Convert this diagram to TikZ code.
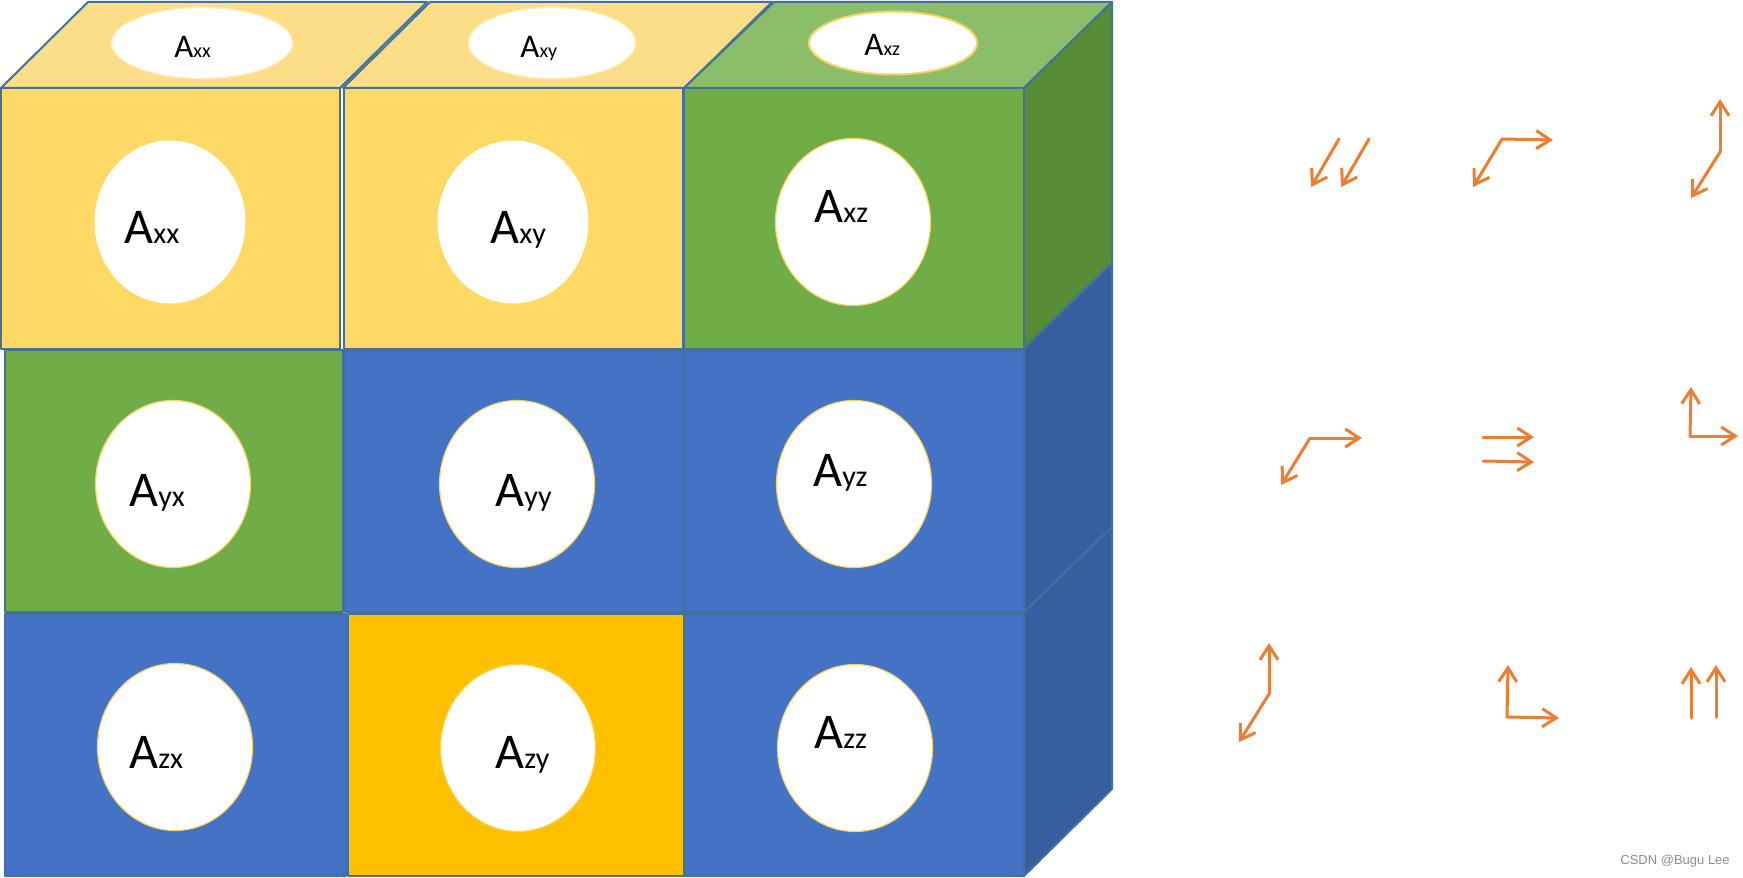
\documentclass[tikz,border=0pt]{standalone}
\usepackage{fontspec}
\setmainfont{Carlito}
\newfontfamily\markfont{Liberation Sans}
\usetikzlibrary{shapes.geometric, arrows.meta}
\definecolor{edgeblue}{HTML}{41719C}
\definecolor{yeltop}{HTML}{FDDE88}
\definecolor{yelfront}{HTML}{FFD966}
\definecolor{goldfront}{HTML}{FFC000}
\definecolor{grntop}{HTML}{8CBD68}
\definecolor{grnfront}{HTML}{70AD47}
\definecolor{grnside}{HTML}{578B36}
\definecolor{bluefront}{HTML}{4472C4}
\definecolor{blueside}{HTML}{375E9E}
\definecolor{ringgold}{HTML}{F5D45F}
\definecolor{arroworange}{HTML}{ED7D31}
\tikzstyle{every node}=[inner sep=0pt]
\tikzstyle{face} = [draw=edgeblue, line width=1pt, line join=round]
\tikzstyle{blob} = [ellipse, draw=ringgold, line width=0.6pt, fill=white, minimum width=77.5pt, minimum height=83.5pt]
\tikzstyle{lid} = [ellipse, draw=ringgold!40, line width=0.6pt, fill=white, minimum height=35.5pt]
\tikzstyle{tag} = [anchor=base west]
\tikzstyle{vec} = [draw=arroworange, line width=1.5pt, line cap=round, -{Straight Barb[length=7pt,width=9pt]}]
\newcommand{\bigA}[1]{{\fontsize{25}{25}\selectfont A}{\fontsize{15}{15}\selectfont #1}}
\newcommand{\lidA}[1]{{\fontsize{16.5}{16.5}\selectfont A}{\fontsize{10}{10}\selectfont #1}}

\begin{document}
\begin{tikzpicture}[x=0.5pt, y=-0.5pt]
    \useasboundingbox (0,0) rectangle (1743,877);
    % Top faces
    \filldraw [face, fill=yeltop] (1,88) -- (340,88) -- (427,2) -- (88,2) -- cycle;
    \filldraw [face, fill=yeltop] (343,88) -- (684,88) -- (772,2) -- (430,2) -- cycle;
    \filldraw [face, fill=grntop] (684,88) -- (1024,88) -- (1112,2) -- (774,2) -- cycle;
    % Side faces
    \filldraw [face, fill=grnside] (1024,88) -- (1112,2) -- (1112,263) -- (1024,349) -- cycle;
    \filldraw [face, fill=blueside] (1024,349) -- (1112,263) -- (1112,527) -- (1024,612) -- cycle;
    \filldraw [face, fill=blueside] (1024,612) -- (1112,527) -- (1112,789) -- (1024,876) -- cycle;
    % Front faces
    \filldraw [face, fill=yelfront] (1,88) rectangle (340,349);
    \filldraw [face, fill=yelfront] (344,88) rectangle (683,349);
    \filldraw [face, fill=grnfront] (684,88) rectangle (1024,349);
    \filldraw [face, fill=grnfront] (5,350) rectangle (343,612);
    \filldraw [face, fill=bluefront] (345,350) rectangle (685,612);
    \filldraw [face, fill=bluefront] (684,350) rectangle (1024,612);
    \filldraw [face, fill=bluefront] (5,614) rectangle (346,876);
    \filldraw [face, fill=goldfront] (348,614) rectangle (684,876);
    \filldraw [face, fill=bluefront] (684,614) rectangle (1024,876);

    % Place nodes
    \node [lid, minimum width=90.5pt] (txx) at (202,43) {};
    \node [lid, minimum width=83.5pt] (txy) at (552,43) {};
    \node [lid, draw=ringgold, line width=1pt, minimum width=84pt, minimum height=31.5pt] (txz) at (893,43) {};
    \node [tag] (ltxx) at (174,58) {\lidA{xx}};
    \node [tag] (ltxy) at (520,58) {\lidA{xy}};
    \node [tag] (ltxz) at (864,56) {\lidA{xz}};

    \node [blob, draw=none, minimum width=75.5pt, minimum height=81.5pt] (xx) at (170,222) {};
    \node [blob, draw=none, minimum width=75.5pt, minimum height=81.5pt] (xy) at (513,222) {};
    \node [blob] (xz) at (853,222) {};
    \node [blob] (yx) at (173,484) {};
    \node [blob] (yy) at (517,484) {};
    \node [blob] (yz) at (854,484) {};
    \node [blob] (zx) at (175,747) {};
    \node [blob] (zy) at (518,748) {};
    \node [blob] (zz) at (855,748) {};

    \node [tag] (lxx) at (124,243) {\bigA{xx}};
    \node [tag] (lxy) at (490,243) {\bigA{xy}};
    \node [tag] (lxz) at (814,222) {\bigA{xz}};
    \node [tag] (lyx) at (129,506) {\bigA{yx}};
    \node [tag] (lyy) at (495,506) {\bigA{yy}};
    \node [tag] (lyz) at (813,486) {\bigA{yz}};
    \node [tag] (lzx) at (129,768) {\bigA{zx}};
    \node [tag] (lzy) at (495,768) {\bigA{zy}};
    \node [tag] (lzz) at (814,748) {\bigA{zz}};

    \node [tag, text=black!45] (mark) at (1620,864) {\markfont\fontsize{6.5}{6.5}\selectfont CSDN @Bugu Lee};

    % Arrow pairs
    \coordinate (xxa) at (1339,139); \coordinate (xxb) at (1369,139);
    \coordinate (xy0) at (1502,139);
    \coordinate (xz0) at (1720,152);
    \coordinate (yx0) at (1310,438);
    \coordinate (yya) at (1483,437); \coordinate (yyb) at (1483,461);
    \coordinate (yz0) at (1690,436);
    \coordinate (zx0) at (1269,694);
    \coordinate (zy0) at (1507,717);
    \coordinate (zza) at (1691,718); \coordinate (zzb) at (1716,717);

    \path [vec] (xxa) -- (1311,187);
    \path [vec] (xxb) -- (1341,187);
    \path [vec] (xy0) -- (1553,140);
    \path [vec] (xy0) -- (1473,187);
    \path [vec] (xz0) -- (1720,99);
    \path [vec] (xz0) -- (1691,198);
    \path [vec] (yx0) -- (1362,438);
    \path [vec] (yx0) -- (1281,485);
    \path [vec] (yya) -- (1534,437);
    \path [vec] (yyb) -- (1534,462);
    \path [vec] (yz0) -- (1691,387);
    \path [vec] (yz0) -- (1738,436);
    \path [vec] (zx0) -- (1269,643);
    \path [vec] (zx0) -- (1239,742);
    \path [vec] (zy0) -- (1508,665);
    \path [vec] (zy0) -- (1559,718);
    \path [vec] (zza) -- (1691,667);
    \path [vec] (zzb) -- (1716,665);
\end{tikzpicture}
\end{document}
